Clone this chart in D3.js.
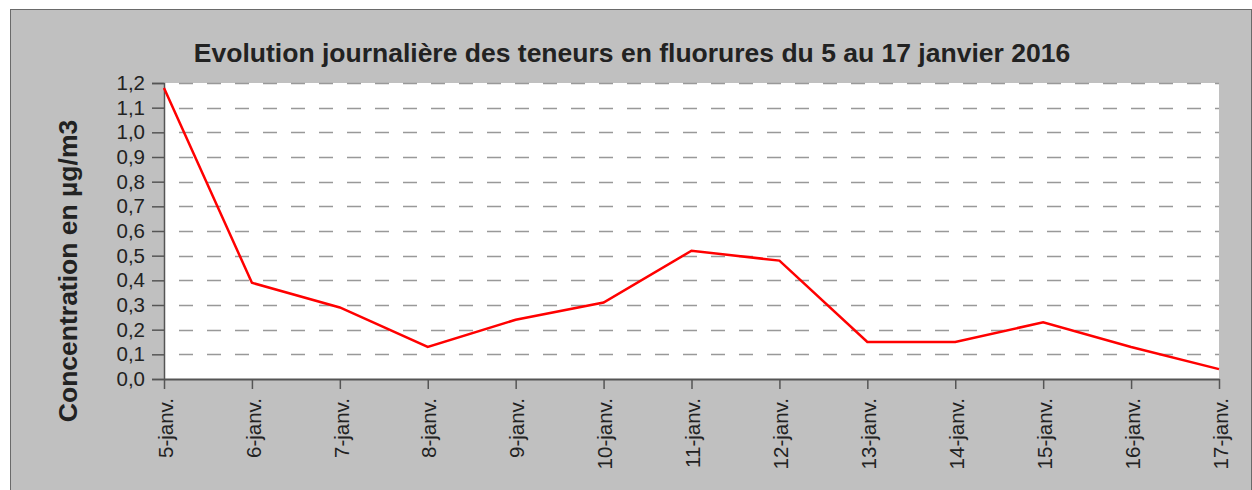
<!DOCTYPE html>
<html>
<head>
<meta charset="utf-8">
<script src="https://cdn.jsdelivr.net/npm/d3@7"></script>
<style>
  body { margin: 0; background: #ffffff; }
  svg { display: block; font-family: "Liberation Sans", Arial, sans-serif; }
</style>
</head>
<body>
<svg id="chart"></svg>
<script>
var width = 1252, height = 490;

var days = ["5-janv.", "6-janv.", "7-janv.", "8-janv.", "9-janv.", "10-janv.", "11-janv.",
            "12-janv.", "13-janv.", "14-janv.", "15-janv.", "16-janv.", "17-janv."];
var fluor = [1.18, 0.39, 0.29, 0.13, 0.24, 0.31, 0.52, 0.48, 0.15, 0.15, 0.23, 0.13, 0.04];
var yTicks = [0, 0.1, 0.2, 0.3, 0.4, 0.5, 0.6, 0.7, 0.8, 0.9, 1.0, 1.1, 1.2];

var margin = {top: 83, right: 33, bottom: 111, left: 164};

var svg = d3.select("#chart")
    .attr("width", width)
    .attr("height", height);

// grey frame
svg.append("rect")
    .attr("x", 10.5).attr("y", 9.5)
    .attr("width", width - 11).attr("height", height - 9)
    .attr("fill", "#c0c0c0")
    .attr("stroke", "#6a6a6a");

var x = d3.scalePoint()
    .domain(days)
    .range([margin.left, width - margin.right]);

var y = d3.scaleLinear()
    .domain([0, 1.2])
    .range([height - margin.bottom, margin.top]);

svg.append("rect")
    .attr("x", margin.left).attr("y", margin.top)
    .attr("width", width - margin.right - margin.left)
    .attr("height", height - margin.bottom - margin.top)
    .attr("fill", "#ffffff");

// dashed grid
svg.append("g")
  .selectAll("line")
  .data(yTicks.slice(1))
  .join("line")
    .attr("x1", margin.left + 1).attr("x2", width - margin.right)
    .attr("y1", d => Math.round(y(d)) + 0.5).attr("y2", d => Math.round(y(d)) + 0.5)
    .attr("stroke", "#999999")
    .attr("stroke-width", 1.3)
    .attr("stroke-dasharray", "14,14")
    .attr("stroke-dashoffset", -14);

var fmt = d => d3.format(".1f")(d).replace(".", ",");

var yAxis = svg.append("g")
    .attr("transform", "translate(" + margin.left + ",0)")
    .call(d3.axisLeft(y).tickValues(yTicks).tickFormat(fmt).tickSize(12).tickPadding(7));

var xAxis = svg.append("g")
    .attr("transform", "translate(0," + (height - margin.bottom) + ")")
    .call(d3.axisBottom(x).tickSize(10).tickSizeOuter(0));

yAxis.select(".domain").attr("stroke", "#555").attr("stroke-width", 1.5);
xAxis.select(".domain").attr("stroke", "#555").attr("stroke-width", 2);
svg.selectAll(".tick line").attr("stroke", "#555").attr("stroke-width", 1.5);

yAxis.selectAll("text")
    .attr("font-size", 20.5)
    .attr("fill", "#222");

xAxis.selectAll("text")
    .attr("font-size", 20.5)
    .attr("fill", "#222")
    .attr("text-anchor", "end")
    .attr("transform", "rotate(-90)")
    .attr("x", -19)
    .attr("y", 1)
    .attr("dy", "0.35em");

var line = d3.line()
    .x((d, i) => x(days[i]))
    .y(d => y(d));

svg.append("path")
    .datum(fluor)
    .attr("d", line)
    .attr("fill", "none")
    .attr("stroke", "#ff0000")
    .attr("stroke-width", 2.5);

svg.append("text")
    .attr("x", 632).attr("y", 62)
    .attr("text-anchor", "middle")
    .attr("font-size", 26.5)
    .attr("font-weight", "bold")
    .attr("fill", "#222")
    .text("Evolution journalière des teneurs en fluorures du 5 au 17 janvier 2016");

svg.append("text")
    .attr("transform", "translate(77,271) rotate(-90)")
    .attr("text-anchor", "middle")
    .attr("font-size", 26.5)
    .attr("font-weight", "bold")
    .attr("fill", "#222")
    .text("Concentration en µg/m3");
</script>
</body>
</html>
